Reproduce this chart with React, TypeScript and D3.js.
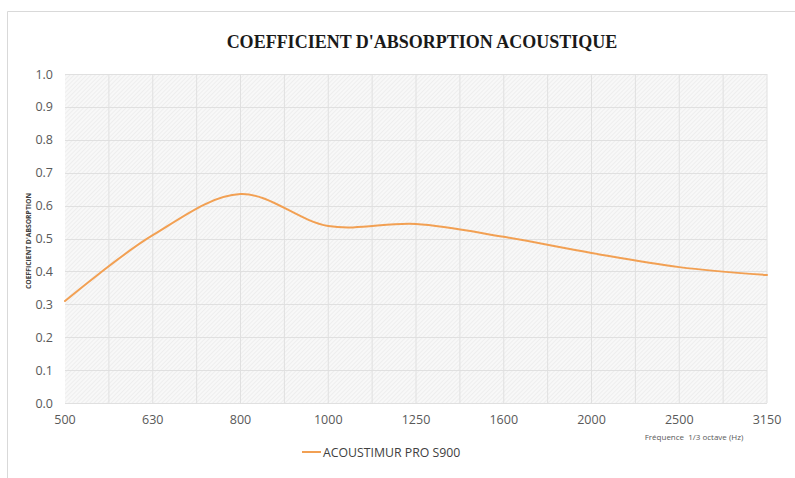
import { useEffect, useRef } from "react";
import * as d3 from "d3";

const frequencies = ["500", "630", "800", "1000", "1250", "1600", "2000", "2500", "3150"];
const absorption = [0.31, 0.51, 0.635, 0.538, 0.544, 0.505, 0.456, 0.413, 0.389];
const yTicks = [0, 0.1, 0.2, 0.3, 0.4, 0.5, 0.6, 0.7, 0.8, 0.9, 1.0];
const seriesName = "ACOUSTIMUR PRO S900";

const App = () => {
  const svgRef = useRef<SVGSVGElement | null>(null);

  useEffect(() => {
    const width = 795;
    const height = 478;
    const margin = { top: 74, right: 28, bottom: 75, left: 65 };

    const svg = d3.select(svgRef.current);
    svg.selectAll("*").remove();
    svg.attr("width", width).attr("height", height).style("background", "white");

    // frame
    svg
      .append("path")
      .attr("d", `M7.5,${height} L7.5,11.5 L${width},11.5`)
      .attr("fill", "none")
      .attr("stroke", "#d9d9d9")
      .attr("stroke-width", 1);

    // hatch pattern for the plot area
    const defs = svg.append("defs");
    const pattern = defs
      .append("pattern")
      .attr("id", "hatch")
      .attr("patternUnits", "userSpaceOnUse")
      .attr("width", 3)
      .attr("height", 3)
      .attr("patternTransform", "rotate(45)");
    pattern.append("rect").attr("width", 3).attr("height", 3).attr("fill", "#f8f8f8");
    pattern
      .append("line")
      .attr("x1", 0)
      .attr("y1", 0)
      .attr("x2", 0)
      .attr("y2", 3)
      .attr("stroke", "#e4e4e4")
      .attr("stroke-width", 1);

    const x = d3
      .scalePoint<string>()
      .domain(frequencies)
      .range([margin.left, width - margin.right]);

    const y = d3
      .scaleLinear()
      .domain([0, 1])
      .range([height - margin.bottom, margin.top]);

    svg
      .append("rect")
      .attr("x", margin.left)
      .attr("y", margin.top)
      .attr("width", width - margin.right - margin.left)
      .attr("height", height - margin.bottom - margin.top)
      .attr("fill", "url(#hatch)");

    // grid lines (categories + minor midpoints)
    const step = x.step();
    const vLines: number[] = [];
    frequencies.forEach((f, i) => {
      const px = x(f) ?? 0;
      if (i > 0) vLines.push(px);
      if (i < frequencies.length - 1) vLines.push(px + step / 2);
    });

    svg
      .append("g")
      .selectAll("line")
      .data(vLines)
      .join("line")
      .attr("x1", (d) => d)
      .attr("x2", (d) => d)
      .attr("y1", margin.top)
      .attr("y2", height - margin.bottom)
      .attr("stroke", "#e0e0e0")
      .attr("stroke-width", 1);

    svg
      .append("g")
      .selectAll("line")
      .data(yTicks)
      .join("line")
      .attr("x1", margin.left)
      .attr("x2", width - margin.right)
      .attr("y1", (d) => Math.round(y(d)) + 0.5)
      .attr("y2", (d) => Math.round(y(d)) + 0.5)
      .attr("stroke", "#e0e0e0")
      .attr("stroke-width", 1);

    // y axis labels
    svg
      .append("g")
      .selectAll("text")
      .data(yTicks)
      .join("text")
      .attr("x", 53)
      .attr("y", (d) => y(d) + 4.5)
      .attr("text-anchor", "end")
      .attr("font-family", "'Open Sans', sans-serif")
      .attr("font-size", 12.5)
      .attr("fill", "#595959")
      .text((d) => d.toFixed(1));

    // x axis labels
    svg
      .append("g")
      .selectAll("text")
      .data(frequencies)
      .join("text")
      .attr("x", (d) => x(d) ?? 0)
      .attr("y", 424)
      .attr("text-anchor", "middle")
      .attr("font-family", "'Open Sans', sans-serif")
      .attr("font-size", 12.5)
      .attr("fill", "#595959")
      .text((d) => d);

    // axis titles
    svg
      .append("text")
      .attr("transform", `translate(31,241) rotate(-90)`)
      .attr("text-anchor", "middle")
      .attr("font-family", "'Open Sans', sans-serif")
      .attr("font-size", 6.8)
      .attr("font-weight", "bold")
      .attr("fill", "#404040")
      .text("COEFFICIENT D'ABSORPTION");

    svg
      .append("text")
      .attr("x", 694)
      .attr("y", 440)
      .attr("text-anchor", "middle")
      .attr("font-family", "'Open Sans', sans-serif")
      .attr("font-size", 8)
      .attr("fill", "#595959")
      .attr("xml:space", "preserve")
      .text("Fréquence  1/3 octave (Hz)");

    // title
    svg
      .append("text")
      .attr("x", 422)
      .attr("y", 48)
      .attr("text-anchor", "middle")
      .attr("font-family", "'Liberation Serif', serif")
      .attr("font-size", 18)
      .attr("font-weight", "bold")
      .attr("fill", "#1a1a1a")
      .text("COEFFICIENT D'ABSORPTION ACOUSTIQUE");

    // series line
    const line = d3
      .line<number>()
      .x((_, i) => x(frequencies[i]) ?? 0)
      .y((d) => y(d))
      .curve(d3.curveCatmullRom.alpha(0.5));

    svg
      .append("path")
      .datum(absorption)
      .attr("d", line)
      .attr("fill", "none")
      .attr("stroke", "#f2a053")
      .attr("stroke-width", 2)
      .attr("stroke-linecap", "round");

    // legend
    svg
      .append("line")
      .attr("x1", 302)
      .attr("x2", 321)
      .attr("y1", 452)
      .attr("y2", 452)
      .attr("stroke", "#f2a053")
      .attr("stroke-width", 2);

    svg
      .append("text")
      .attr("x", 323)
      .attr("y", 456.5)
      .attr("font-family", "'Open Sans', sans-serif")
      .attr("font-size", 12.3)
      .attr("fill", "#404040")
      .text(seriesName);
  }, []);

  return (
    <svg
      ref={svgRef}
      style={{ position: "absolute", left: 0, top: 0, display: "block" }}
    ></svg>
  );
};

export default App;
